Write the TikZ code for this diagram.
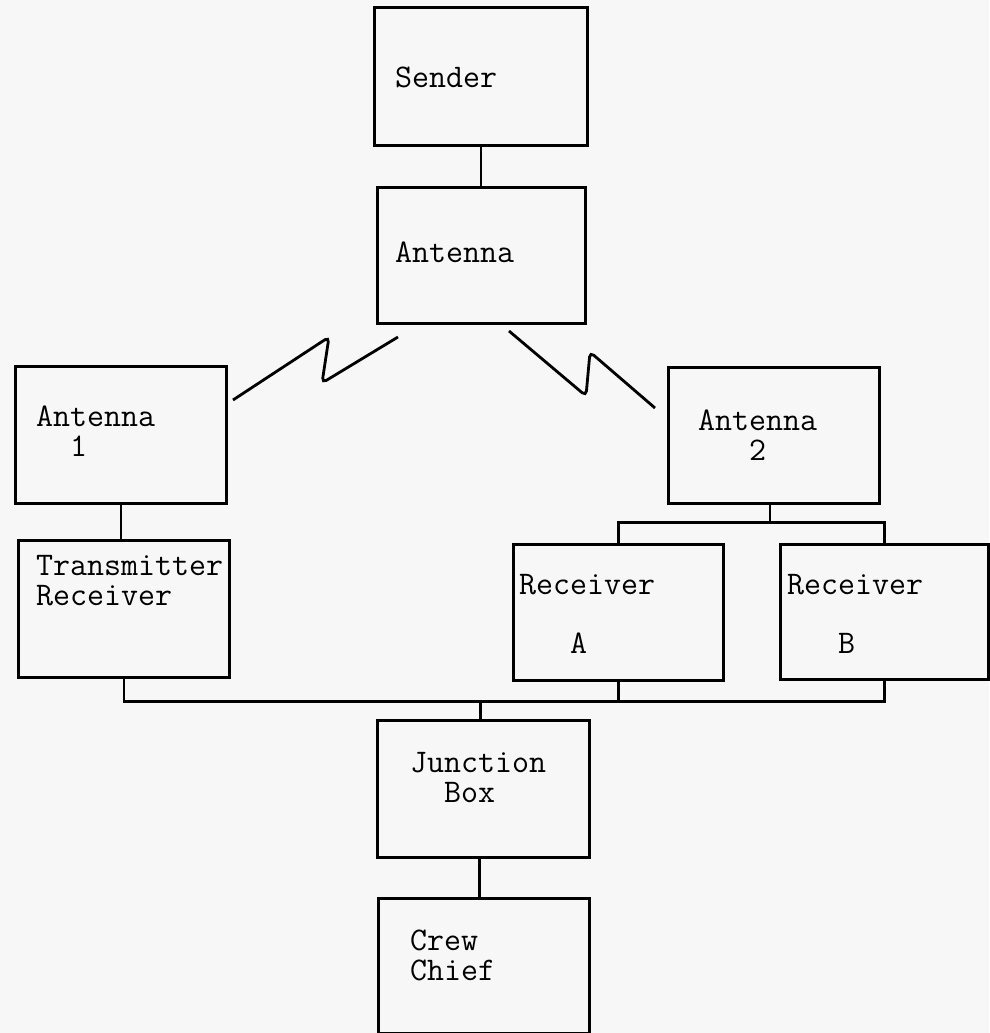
\documentclass[tikz,border=0pt]{standalone}
\definecolor{paper}{RGB}{247,247,247}
\begin{document}
\begin{tikzpicture}[x=1pt,y=-1pt,
  box/.style={draw=black,line width=2.8pt,anchor=north west,inner sep=0pt},
  lbl/.style={anchor=base west,inner sep=0pt,align=left,
    font=\ttfamily\fontsize{33}{29.5}\selectfont},
  wire/.style={draw=black,line width=2.8pt},
  wave/.style={draw=black,line width=2.8pt,rounded corners=5pt}]
% paper
\fill[paper] (0,0) rectangle (989,1033);
\useasboundingbox (0,0) rectangle (989,1033);

% boxes
\node[box,minimum width=213pt,minimum height=138pt] (sender) at (373,6) {};
\node[box,minimum width=208pt,minimum height=136pt] (ant)    at (376,186) {};
\node[box,minimum width=211pt,minimum height=137pt] (ant1)   at (14,365) {};
\node[box,minimum width=211pt,minimum height=137pt] (txrx)   at (17,539) {};
\node[box,minimum width=211pt,minimum height=136pt] (ant2)   at (667,366) {};
\node[box,minimum width=210pt,minimum height=136pt] (recA)   at (512,543) {};
\node[box,minimum width=208pt,minimum height=135pt] (recB)   at (779,543) {};
\node[box,minimum width=212pt,minimum height=137pt] (junc)   at (376,719) {};
\node[box,minimum width=211pt,minimum height=135pt] (crew)   at (377,897) {};

% labels (anchored on the baseline of the last line)
\node[lbl] (senderT) at (395,87)  {Sender};
\node[lbl] (antT)    at (395,262) {Antenna};
\node[lbl] (ant1T)   at (36,456)  {Antenna\\\hphantom{00}1};
\node[lbl] (ant2T)   at (698,460) {Antenna\\\hphantom{000}2};
\node[lbl] (txrxT)   at (36,605)  {Transmitter\\Receiver};
\node[lbl] (recAT)   at (519,653) {Receiver\\[29.5pt]\hphantom{000}A};
\node[lbl] (recBT)   at (787,653) {Receiver\\[29.5pt]\hphantom{000}B};
\node[lbl] (juncT)   at (410,802) {Junction\\\hphantom{00}Box};
\node[lbl] (crewT)   at (410,980) {Crew\\Chief};

% wiring
\draw[wire] (sender.south) -- (sender.south |- ant.north);
\draw[wire] (ant1.south) -- (ant1.south |- txrx.north);
\draw[wire] ([xshift=-4pt]ant2.south) -- ++(0,18) coordinate (split);
\draw[wire] (recA.north) |- (split) -| (recB.north);
\path (txrx.south) ++(0,23) coordinate (bus);
\draw[wire] (txrx.south) -- (bus) -| (recB.south);
\draw[wire] (recA.south) -- (recA.south |- bus);
\draw[wire] ([xshift=-3pt]junc.north) -- ([xshift=-3pt]junc.north |- bus);
\draw[wire] ([xshift=-4pt]junc.south) -- ([xshift=-4pt]junc.south |- crew.north);

% radio links
\coordinate (wl1) at (233,400);
\coordinate (wl2) at (398,337);
\coordinate (wr1) at (509,331);
\coordinate (wr2) at (655,408);
\draw[wave] (wl1) -- (329,337) -- (322,383) -- (wl2);
\draw[wave] (wr1) -- (586,396) -- (590,352) -- (wr2);
\end{tikzpicture}
\end{document}
